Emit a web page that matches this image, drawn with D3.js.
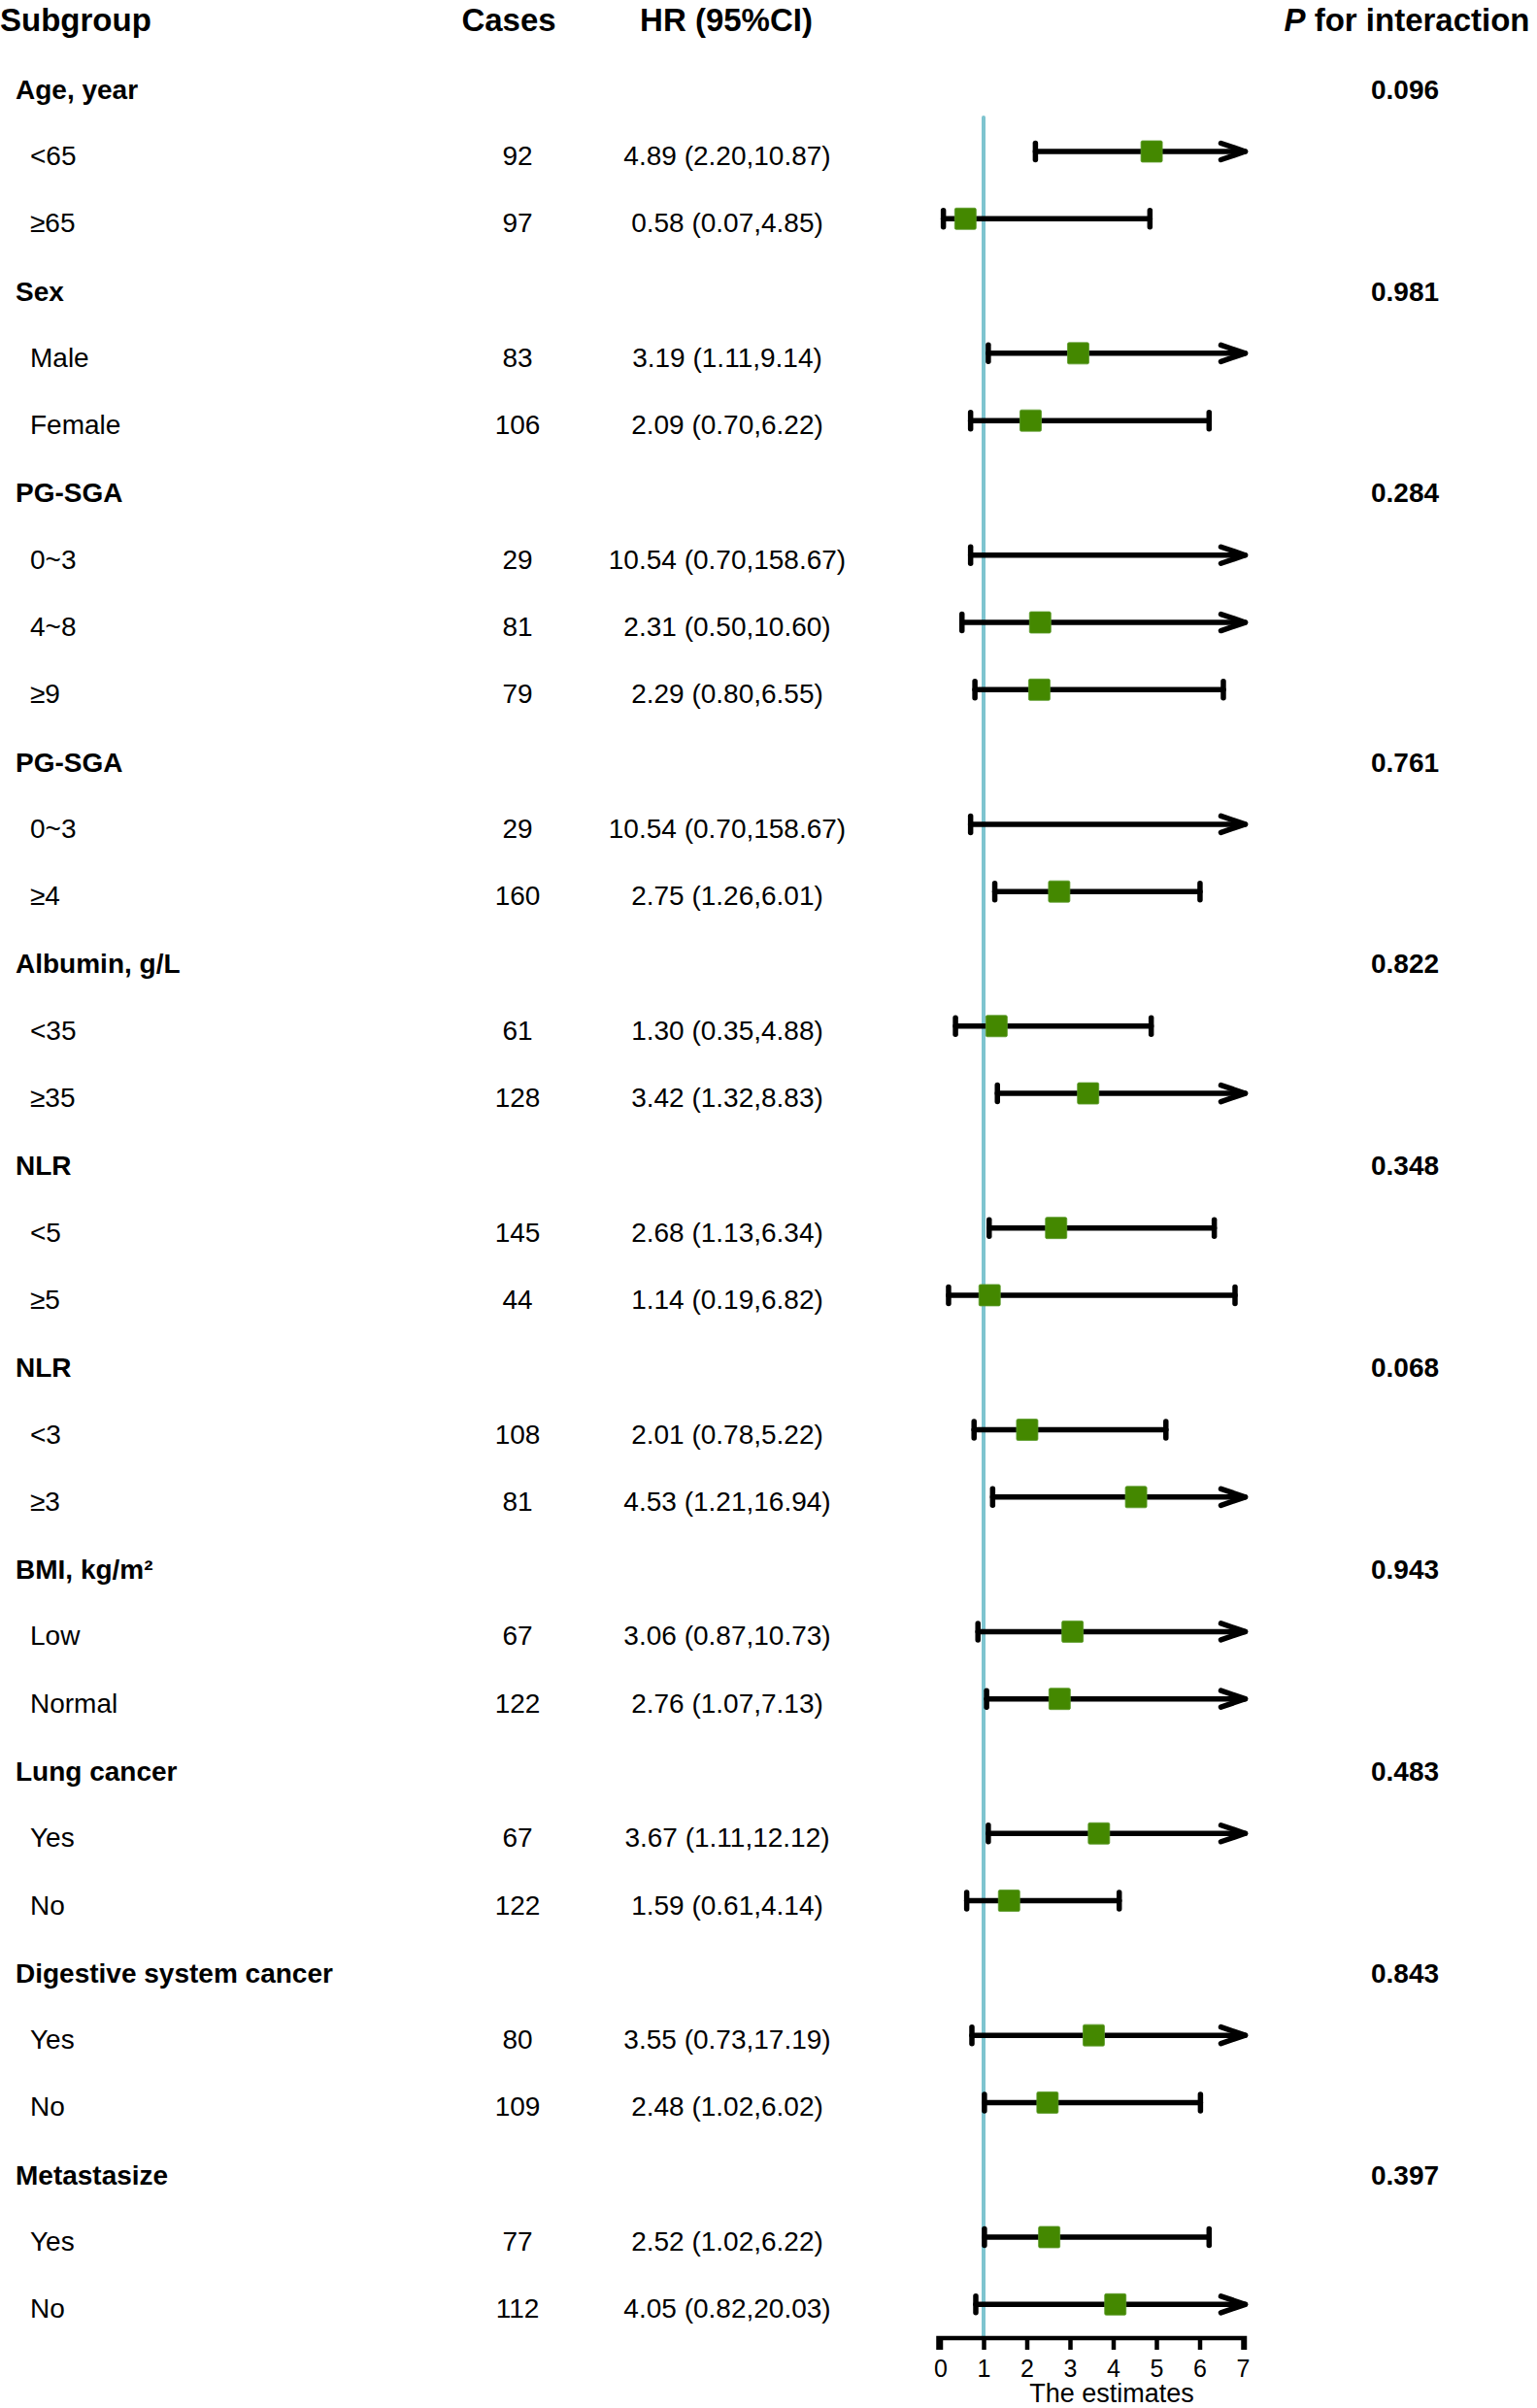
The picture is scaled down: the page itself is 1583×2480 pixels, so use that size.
<!DOCTYPE html>
<html>
<head>
<meta charset="utf-8">
<script src="https://cdn.jsdelivr.net/npm/d3@7"></script>
<style>
  html, body { margin: 0; padding: 0; background: #fff; }
  svg { display: block; }
  text { font-family: "Liberation Sans", Arial, Helvetica, sans-serif; fill: #000; }
</style>
</head>
<body>
<svg id="chart" width="1583" height="2480"></svg>
<script>
// ---- data ----
const labels = ["Age, year","<65","≥65","Sex","Male","Female","PG-SGA","0~3","4~8","≥9",
  "PG-SGA","0~3","≥4","Albumin, g/L","<35","≥35","NLR","<5","≥5","NLR","<3","≥3",
  "BMI, kg/m²","Low","Normal","Lung cancer","Yes","No","Digestive system cancer","Yes","No",
  "Metastasize","Yes","No"];
const isGroup = [1,0,0,1,0,0,1,0,0,0,1,0,0,1,0,0,1,0,0,1,0,0,1,0,0,1,0,0,1,0,0,1,0,0];
const cases = [null,92,97,null,83,106,null,29,81,79,null,29,160,null,61,128,null,145,44,null,108,81,
  null,67,122,null,67,122,null,80,109,null,77,112];
const hrEst = [null,4.89,0.58,null,3.19,2.09,null,10.54,2.31,2.29,null,10.54,2.75,null,1.30,3.42,
  null,2.68,1.14,null,2.01,4.53,null,3.06,2.76,null,3.67,1.59,null,3.55,2.48,null,2.52,4.05];
const hrLow = [null,2.20,0.07,null,1.11,0.70,null,0.70,0.50,0.80,null,0.70,1.26,null,0.35,1.32,
  null,1.13,0.19,null,0.78,1.21,null,0.87,1.07,null,1.11,0.61,null,0.73,1.02,null,1.02,0.82];
const hrHigh = [null,10.87,4.85,null,9.14,6.22,null,158.67,10.60,6.55,null,158.67,6.01,null,4.88,8.83,
  null,6.34,6.82,null,5.22,16.94,null,10.73,7.13,null,12.12,4.14,null,17.19,6.02,null,6.22,20.03];
const pValues = ["0.096",null,null,"0.981",null,null,"0.284",null,null,null,"0.761",null,null,"0.822",null,null,
  "0.348",null,null,"0.068",null,null,"0.943",null,null,"0.483",null,null,"0.843",null,null,"0.397",null,null];
const headers = ["Subgroup","Cases","HR (95%CI)","for interaction"];
const xTicks = [0,1,2,3,4,5,6,7];
const xLabel = "The estimates";
const refValue = 1;

// ---- layout ----
const svg = d3.select("#chart");
const idx = d3.range(labels.length);
const y = d3.scalePoint().domain(idx).range([86.7, 2373.3]);
const x = d3.scaleLinear().domain([0, 7]).range([968.5, 1280]);
const xMax = 7;
const axisY = 2408;

svg.append("rect").attr("width",1583).attr("height",2480).attr("fill","#fff");

// headers
const hdr = svg.append("g").attr("font-weight","bold").attr("font-size",33);
hdr.append("text").attr("x",0).attr("y",32).text(headers[0]);
hdr.append("text").attr("x",524).attr("y",32).attr("text-anchor","middle").text(headers[1]);
hdr.append("text").attr("x",748).attr("y",32).attr("text-anchor","middle").text(headers[2]);
const pt = hdr.append("text").attr("x",1449).attr("y",32).attr("text-anchor","middle");
pt.append("tspan").attr("font-style","italic").text("P");
pt.append("tspan").text(" " + headers[3]);

// label column
svg.append("g").selectAll("text").data(idx).join("text")
  .attr("x", i => isGroup[i] ? 16 : 31)
  .attr("y", i => y(i) + (isGroup[i] ? 15 : 14))
  .attr("font-size", 28)
  .attr("font-weight", i => isGroup[i] ? "bold" : "normal")
  .text(i => labels[i]);

// cases
svg.append("g").selectAll("text").data(idx.filter(i => cases[i] != null)).join("text")
  .attr("x", 533).attr("y", i => y(i) + 14)
  .attr("text-anchor","middle").attr("font-size",28)
  .text(i => cases[i]);

// HR text
svg.append("g").selectAll("text").data(idx.filter(i => hrEst[i] != null)).join("text")
  .attr("x", 749).attr("y", i => y(i) + 14)
  .attr("text-anchor","middle").attr("font-size",28)
  .text(i => `${hrEst[i].toFixed(2)} (${hrLow[i].toFixed(2)},${hrHigh[i].toFixed(2)})`);

// p values
svg.append("g").selectAll("text").data(idx.filter(i => pValues[i] != null)).join("text")
  .attr("x", 1447).attr("y", i => y(i) + 15)
  .attr("text-anchor","middle").attr("font-size",28).attr("font-weight","bold")
  .text(i => pValues[i]);

// reference line
svg.append("line")
  .attr("x1", x(refValue)).attr("x2", x(refValue))
  .attr("y1", 121).attr("y2", axisY)
  .attr("stroke", "#7ec4cf").attr("stroke-width", 4).attr("stroke-linecap","round");

// CI lines
const ci = svg.append("g").attr("stroke","#000").attr("stroke-width",5.5)
  .attr("stroke-linecap","round").attr("fill","none");
const dataRows = idx.filter(i => hrEst[i] != null);
dataRows.forEach(i => {
  const yy = y(i);
  const lo = x(Math.max(0, hrLow[i]));
  const clipped = hrHigh[i] > xMax;
  const hi = clipped ? x(xMax) + 2.5 : x(hrHigh[i]);
  ci.append("line").attr("x1", lo).attr("x2", hi).attr("y1", yy).attr("y2", yy);
  ci.append("line").attr("x1", lo).attr("x2", lo).attr("y1", yy - 8.5).attr("y2", yy + 8.5);
  if (clipped) {
    ci.append("path").attr("d", `M${hi-25},${yy-8.5} L${hi},${yy} L${hi-25},${yy+8.5}`)
      .attr("stroke-linejoin","round");
  } else {
    ci.append("line").attr("x1", hi).attr("x2", hi).attr("y1", yy - 8.5).attr("y2", yy + 8.5);
  }
});

// point estimates
svg.append("g").selectAll("rect").data(dataRows.filter(i => hrEst[i] <= xMax)).join("rect")
  .attr("x", i => x(hrEst[i]) - 11).attr("y", i => y(i) - 11)
  .attr("width", 22).attr("height", 22).attr("rx", 1.5)
  .attr("fill", "#448800").attr("stroke", "#5a9a2a").attr("stroke-width", 0.8);

// axis
const axis = d3.axisBottom(x).tickValues(xTicks).tickSize(12).tickPadding(10).tickFormat(d3.format("d"));
const ag = svg.append("g").attr("transform", `translate(0,${axisY})`).call(axis);
ag.select(".domain").attr("stroke","#000").attr("stroke-width",4.5)
  .attr("d", `M${x(0)-2},12V0H${x(7)+2}V12`);
ag.selectAll(".tick line").attr("stroke","#000").attr("stroke-width",4.5);
ag.selectAll(".tick text").attr("font-size",25).attr("fill","#000")
  .attr("font-family","'Liberation Sans', Arial, sans-serif");

svg.append("text").attr("x", 1145).attr("y", 2474).attr("text-anchor","middle")
  .attr("font-size",27).text(xLabel);
</script>
</body>
</html>
